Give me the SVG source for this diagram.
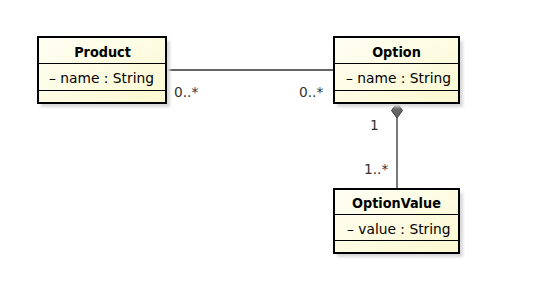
<svg xmlns="http://www.w3.org/2000/svg" width="540" height="281" viewBox="0 0 540 281">
<defs>
<linearGradient id="fill" x1="0" y1="0" x2="1" y2="1">
<stop offset="0" stop-color="#FFFFF4"/>
<stop offset="1" stop-color="#FBF8D0"/>
</linearGradient>
<filter id="sh" x="-10%" y="-10%" width="130%" height="140%">
<feGaussianBlur stdDeviation="1.5"/>
</filter>
</defs>
<style>
.shadow{fill:#d8d8d8;filter:url(#sh)}
.box{fill:url(#fill);stroke:#000;stroke-width:2}
.sep{stroke:#000;stroke-width:1}
.title{font-family:"DejaVu Sans Condensed","DejaVu Sans",sans-serif;font-weight:bold;font-size:14.3px;text-anchor:middle;fill:#000}
.attr{font-family:"DejaVu Sans",sans-serif;font-size:13.8px;fill:#000}
.line{stroke:#333;stroke-width:1.3;fill:none}
.lbl{font-family:"DejaVu Sans",sans-serif;font-size:13.7px;fill:#333}
</style>
<rect width="540" height="281" fill="#fff"/>
<g id="connectors">
<line class="line" x1="166" y1="70" x2="334" y2="70"/>
<line class="line" x1="397" y1="118" x2="397" y2="189"/>
<path d="M397 103 L402.5 110.5 L397 118 L391.5 110.5 Z" fill="#666" stroke="#333" stroke-width="1"/>
<text class="lbl" x="174" y="97">0..*</text>
<text class="lbl" x="299" y="97">0..*</text>
<text class="lbl" x="370" y="130">1</text>
<text class="lbl" x="364" y="174">1..*</text>
</g>
<g id="Product">
<rect class="shadow" x="41" y="41" width="129" height="66"/>
<rect class="box" x="38" y="37" width="128" height="66"/>
<line class="sep" x1="38" y1="63.5" x2="166" y2="63.5"/>
<line class="sep" x1="38" y1="90.5" x2="166" y2="90.5"/>
<text class="title" x="102.5" y="57">Product</text>
<text class="attr" x="49" y="83">– name : String</text>
</g>
<g id="Option">
<rect class="shadow" x="337" y="41" width="126" height="66"/>
<rect class="box" x="334" y="37" width="125" height="66"/>
<line class="sep" x1="334" y1="63.5" x2="459" y2="63.5"/>
<line class="sep" x1="334" y1="90.5" x2="459" y2="90.5"/>
<text class="title" x="396.5" y="57">Option</text>
<text class="attr" x="346" y="83">– name : String</text>
</g>
<g id="OptionValue">
<rect class="shadow" x="337" y="193" width="126" height="64"/>
<rect class="box" x="334" y="189" width="125" height="64"/>
<line class="sep" x1="334" y1="214.5" x2="459" y2="214.5"/>
<line class="sep" x1="334" y1="240.5" x2="459" y2="240.5"/>
<text class="title" x="396.5" y="208">OptionValue</text>
<text class="attr" x="347" y="234">– value : String</text>
</g>
</svg>
